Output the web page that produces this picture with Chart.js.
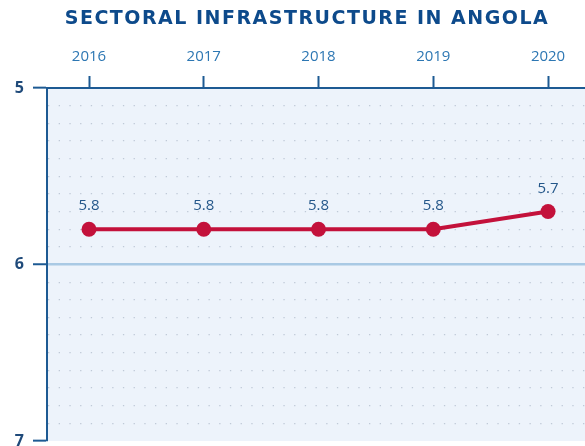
<!DOCTYPE html>
<html>
<head>
<meta charset="utf-8">
<script src="https://cdn.jsdelivr.net/npm/chart.js@4.4.1/dist/chart.umd.min.js"></script>
<style>
  html, body { margin: 0; padding: 0; background: #fff; }
  #wrap { width: 585px; height: 446px; }
</style>
</head>
<body>
<div id="wrap"><canvas id="lineChart"></canvas></div>
<script>
const chartTitle = 'SECTORAL INFRASTRUCTURE IN ANGOLA';
const years = [2016, 2017, 2018, 2019, 2020];
const scores = [5.8, 5.8, 5.8, 5.8, 5.7];
const yLabels = [5, 6, 7];

const darkBlue = '#1d5a93';
const red = '#c3113b';

// light blue fill behind the plot
const plotBackground = {
    id: 'plotBackground',
    beforeDraw(chart) {
        const {ctx, chartArea} = chart;
        ctx.save();
        ctx.fillStyle = '#edf3fb';
        ctx.fillRect(chartArea.left, chartArea.top, chartArea.right - chartArea.left, chartArea.bottom - chartArea.top);
        ctx.restore();
    }
};

// title drawn by hand so it can be letter-spaced like the original
const spacedTitle = {
    id: 'spacedTitle',
    afterDraw(chart) {
        const {ctx} = chart;
        ctx.save();
        ctx.font = 'bold 19px "DejaVu Sans"';
        ctx.letterSpacing = '1.5px';
        ctx.fillStyle = '#0d4a8b';
        ctx.textAlign = 'center';
        ctx.textBaseline = 'middle';
        ctx.fillText(chartTitle, 307, 19);
        ctx.restore();
    }
};

// value labels above the points
const pointLabels = {
    id: 'pointLabels',
    afterDatasetsDraw(chart) {
        const {ctx} = chart;
        const meta = chart.getDatasetMeta(0);
        ctx.save();
        ctx.font = '15px "Open Sans"';
        ctx.fillStyle = '#24578a';
        ctx.textAlign = 'center';
        ctx.textBaseline = 'middle';
        meta.data.forEach((pt, i) => {
            ctx.fillText(scores[i].toFixed(1), pt.x, pt.y - 23);
        });
        ctx.restore();
    }
};

const isWhole = v => Math.abs(v - Math.round(v)) < 1e-6;

const ctx = document.getElementById('lineChart').getContext('2d');
new Chart(ctx, {
    type: 'line',
    data: {
        datasets: [{
            data: years.map((yr, i) => ({x: yr, y: scores[i]})),
            borderColor: red,
            backgroundColor: red,
            borderWidth: 4,
            pointRadius: 7.5,
            pointHoverRadius: 7.5,
            pointBorderWidth: 0,
            tension: 0
        }]
    },
    options: {
        responsive: true,
        maintainAspectRatio: false,
        animation: false,
        layout: {autoPadding: false, padding: {left: 0, right: 0, top: 30, bottom: 5}},
        scales: {
            x: {
                type: 'linear',
                position: 'top',
                min: 2015.634,
                max: 2020.322,
                afterBuildTicks: s => { s.ticks = years.map(v => ({value: v})); },
                afterFit: s => { s.height = 58; s.paddingLeft = 0; s.paddingRight = 0; },
                ticks: {
                    callback: v => String(v),
                    color: '#2d77b3',
                    font: {family: 'Open Sans', size: 15},
                    padding: 10,
                    maxRotation: 0
                },
                grid: {drawOnChartArea: false, drawTicks: true, tickLength: 12, tickColor: darkBlue, tickWidth: 2},
                border: {display: true, color: darkBlue, width: 2}
            },
            y: {
                reverse: true,
                min: 5,
                max: 7,
                afterBuildTicks: s => {
                    const t = [];
                    for (let k = 0; k <= 20; k++) t.push({value: Math.round((5 + k * 0.1) * 10) / 10});
                    s.ticks = t;
                },
                afterFit: s => { s.width = 47; s.paddingTop = 0; s.paddingBottom = 0; },
                ticks: {
                    callback: v => (yLabels.includes(v) ? String(v) : ''),
                    color: '#1f4a7a',
                    font: {family: 'Open Sans', size: 16, weight: 'bold'},
                    padding: 9,
                    autoSkip: false
                },
                grid: {
                    color: c => {
                        if (!c.tick) return 'transparent';
                        if (c.tick.value === 6) return '#a9c9e4';
                        if (isWhole(c.tick.value)) return 'transparent';
                        return '#bfc9d7';
                    },
                    lineWidth: c => (c.tick && c.tick.value === 6 ? 2.5 : 1.3),
                    tickLength: 14,
                    tickWidth: 2,
                    tickColor: c => (c.tick && isWhole(c.tick.value) ? darkBlue : 'transparent')
                },
                border: {
                    display: true,
                    color: darkBlue,
                    width: 2,
                    dash: c => (c.tick && !isWhole(c.tick.value) ? [1.3, 9.4] : [])
                }
            }
        },
        plugins: {
            legend: {display: false},
            tooltip: {enabled: false},
            title: {display: false}
        }
    },
    plugins: [plotBackground, pointLabels, spacedTitle]
});
</script>
</body>
</html>
